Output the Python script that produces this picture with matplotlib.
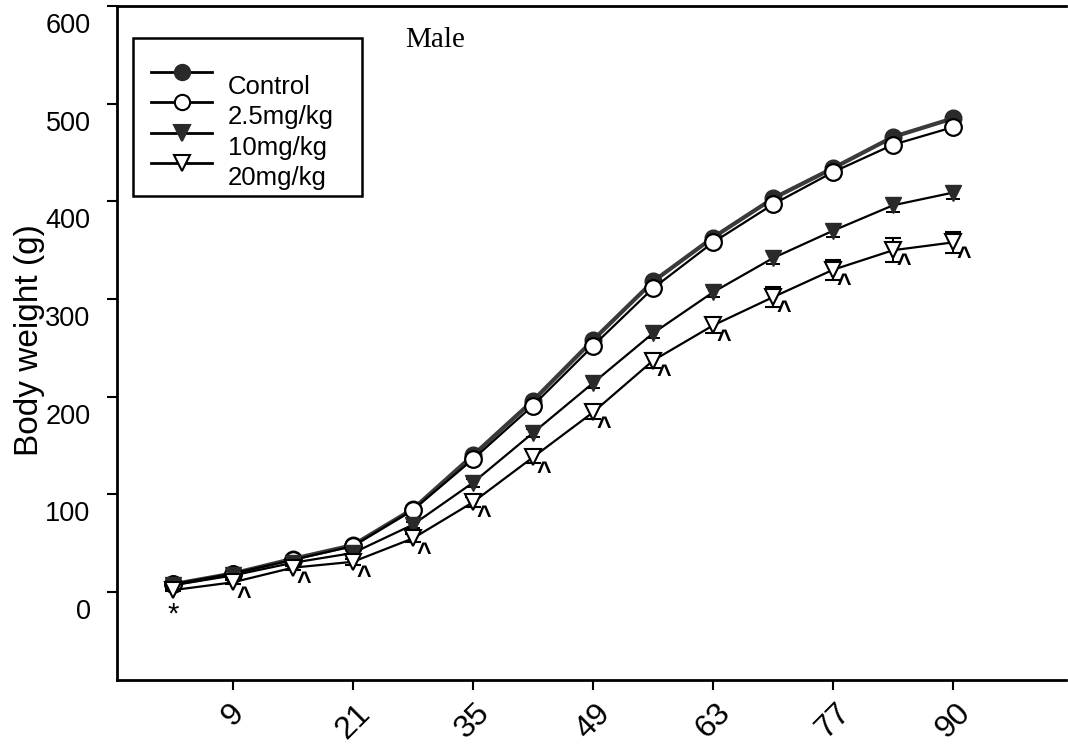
import matplotlib
matplotlib.use("Agg")
import matplotlib.pyplot as plt
from matplotlib.transforms import ScaledTranslation
from matplotlib.lines import Line2D
from matplotlib.patches import Rectangle

# ---- data ----
day_labels = ["2", "9", "15", "21", "28", "35", "42", "49", "56", "63", "70", "77", "84", "90"]
tick_labels = ["9", "21", "35", "49", "63", "77", "90"]
control = [8, 19, 34, 48, 85, 140, 196, 258, 318, 363, 403, 434, 466, 485]
dose_2_5 = [8, 19, 33, 47, 84, 136, 191, 252, 311, 358, 397, 430, 458, 476]
dose_10 = [7, 17, 30, 40, 69, 112, 163, 214, 265, 307, 342, 370, 396, 409]
dose_20 = [2, 10, 25, 31, 55, 92, 138, 184, 237, 273, 302, 330, 350, 358]
err_10 = [1, 1, 2, 2, 3, 4, 4, 5, 5, 5, 6, 6, 7, 7]
err_20 = [1, 2, 2, 3, 4, 5, 6, 7, 8, 8, 10, 10, 12, 11]
sig_marks = ["*"] + ["^"] * 13
series_labels = ["Control", "2.5mg/kg", "10mg/kg", "20mg/kg"]

plt.rcParams['font.family'] = ['Liberation Sans', 'DejaVu Sans']

fig = plt.figure(figsize=(10.68, 7.44), dpi=100)
ax = fig.add_axes([117 / 1068, 1 - 680 / 744, 949 / 1068, 674 / 744])

x = list(range(len(day_labels)))

ax.plot(x, control, '-', color='#3a3a3a', lw=3, marker='o', ms=12,
        mfc='#2a2a2a', mec='#2a2a2a', zorder=3)
ax.plot(x, dose_2_5, '-', color='black', lw=1.6, marker='o', ms=12,
        mfc='white', mec='black', mew=1.6, zorder=4)
ax.errorbar(x, dose_10, yerr=err_10, fmt='-', color='black', lw=1.6, marker='v', ms=12,
            mfc='#2a2a2a', mec='#2a2a2a', ecolor='black', elinewidth=1.4, capsize=5,
            capthick=1.4, zorder=5)
ax.errorbar(x, dose_20, yerr=err_20, fmt='-', color='black', lw=1.6, marker='v', ms=12,
            mfc='white', mec='black', mew=1.5, ecolor='black', elinewidth=1.4, capsize=6,
            capthick=1.6, zorder=6)

# significance marks next to 20mg/kg points
for xv, yv, s in zip(x, dose_20, sig_marks):
    if s == "*":
        ax.annotate(s, (xv, yv), xytext=(0, -23), textcoords='offset points',
                    ha='center', va='baseline', fontsize=21, zorder=7)
    else:
        ax.annotate(s, (xv, yv), xytext=(8, -16), textcoords='offset points',
                    ha='center', va='baseline', fontsize=18, fontweight='bold', zorder=7)

ax.set_xlim(-0.93, 14.88)
ax.set_ylim(-90, 600)

ax.set_xticks(x[1::2])
ax.set_xticklabels(tick_labels, rotation=45, ha='center', va='top', fontsize=23)
ax.set_yticks([0, 100, 200, 300, 400, 500, 600])
ax.set_yticklabels(["0", "100", "200", "300", "400", "500", "600"], fontsize=19.5)
ax.tick_params(axis='both', direction='out', length=7, width=1.5, color='black')
ax.tick_params(axis='x', pad=6)
ax.tick_params(axis='y', pad=12)
for lab in ax.get_yticklabels():
    lab.set_transform(lab.get_transform() + ScaledTranslation(0, -0.17, fig.dpi_scale_trans))

for sp in ['left', 'bottom', 'top']:
    ax.spines[sp].set_linewidth(2)
ax.spines['right'].set_visible(False)

ax.set_ylabel("Body weight (g)", fontsize=24)
ax.yaxis.set_label_coords(-0.092, 0.505)
ax.yaxis.label.set_va('center')

ax.text((405 - 117) / 949, (680 - 40) / 674, "Male", transform=ax.transAxes,
        fontsize=21, family=['Liberation Serif', 'DejaVu Serif'], ha='left', va='center')

# legend drawn manually in axes coordinates
W, H = 949.0, 674.0
def ax_xy(px, py):
    return ((px - 117) / W, (680 - py) / H)

bx0, by0 = ax_xy(133, 196)
bx1, by1 = ax_xy(362, 38)
ax.add_patch(Rectangle((bx0, by0), bx1 - bx0, by1 - by0, transform=ax.transAxes,
                       fill=True, facecolor='white', edgecolor='black', lw=1.8, zorder=10))
handle_styles = [
    dict(marker='o', mfc='#2a2a2a', mec='#2a2a2a'),
    dict(marker='o', mfc='white', mec='black'),
    dict(marker='v', mfc='#2a2a2a', mec='#2a2a2a'),
    dict(marker='v', mfc='white', mec='black'),
]
handle_y = [72, 102, 133, 163]
label_y = [87, 117, 148, 178]
for lab, st, hy, ly in zip(series_labels, handle_styles, handle_y, label_y):
    hx0, hyy = ax_xy(151, hy)
    hx1, _ = ax_xy(212, hy)
    hxm, _ = ax_xy(182, hy)
    ax.add_line(Line2D([hx0, hx1], [hyy, hyy], transform=ax.transAxes, color='black',
                       lw=2, zorder=11))
    ax.add_line(Line2D([hxm], [hyy], transform=ax.transAxes, ms=11, mew=1.5,
                       linestyle='none', zorder=12, **st))
    tx, ty = ax_xy(228, ly)
    ax.text(tx, ty, lab, transform=ax.transAxes, fontsize=18.5, ha='left', va='center',
            zorder=12)

fig.savefig("out.png", dpi=100)
